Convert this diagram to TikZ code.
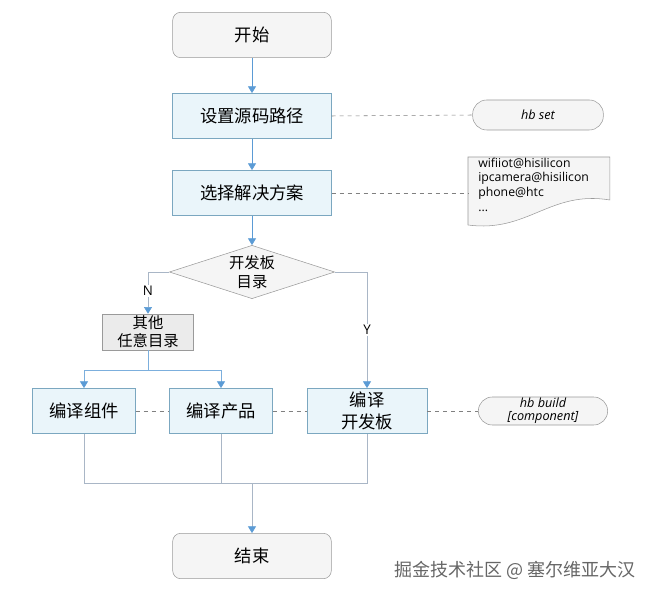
\documentclass[tikz,border=0pt]{standalone}
\usepackage{fontspec}
\setmainfont{Noto Sans CJK SC}
\newfontfamily\latinfont{Open Sans}
\usetikzlibrary{shapes.geometric,arrows.meta,backgrounds}
\definecolor{boxfill}{HTML}{EAF5FA}
\definecolor{boxline}{HTML}{7BA7C0}
\definecolor{termfill}{HTML}{F5F5F5}
\definecolor{termline}{HTML}{9A9A9A}
\definecolor{flowblue}{HTML}{5B9BD5}
\definecolor{joinline}{HTML}{A9B6C6}
\begin{document}
\begin{tikzpicture}[x=0.75pt,y=-0.75pt,
	term/.style={draw=termline,fill=termfill,rounded corners=6pt,minimum width=119pt,minimum height=34pt,inner sep=0pt,font=\fontsize{13}{15}\selectfont},
	stepbox/.style={draw=boxline,fill=boxfill,minimum width=119pt,minimum height=34pt,inner sep=0pt,align=center,font=\fontsize{13}{15}\selectfont},
	pill/.style={draw=termline,fill=termfill,rounded corners=10.5pt,inner sep=0pt,align=center,font=\latinfont\itshape\fontsize{9.5}{11}\selectfont},
	flow/.style={draw=flowblue,-{Triangle[width=6pt,length=5pt]}},
	branch/.style={draw=joinline,-{Triangle[width=6pt,length=5pt,color=flowblue,fill=flowblue]}},
	link/.style={draw=black!50,dash pattern=on 3pt off 3pt}]
	\useasboundingbox (0,0) rectangle (660,598);
	\node[term] (start) at (252,35) {开始};
	\node[stepbox] (setpath) at (252,116) {设置源码路径};
	\node[stepbox] (choose) at (252,193) {选择解决方案};
	\node[diamond,draw=termline,fill=termfill,aspect=3,inner sep=0pt,minimum width=124pt,minimum height=40pt,align=center,font=\fontsize{11.5}{14}\selectfont] (board) at (252,272) {开发板\\目录};
	\node[draw=termline,fill=black!8,minimum width=68pt,minimum height=27pt,inner sep=0pt,align=center,font=\fontsize{11.5}{13.5}\selectfont] (other) at (148,332) {其他\\任意目录};
	\node[stepbox,minimum width=77pt] (comp) at (84,411) {编译组件};
	\node[stepbox,minimum width=77pt] (prod) at (221,411) {编译产品};
	\node[stepbox,minimum width=90pt,font=\fontsize{13}{16}\selectfont] (dev) at (367,411) {编译\\开发板};
	\node[term] (finish) at (252,556) {结束};
	\node[pill,minimum width=98pt,minimum height=22.5pt] (hbset) at (538,115) {hb set};
	\node[pill,minimum width=97pt,minimum height=21pt] (hbbuild) at (543,411) {hb build\\[-1pt][component]};
	\node[anchor=north west,minimum width=106pt,minimum height=52pt,inner sep=0pt] (boards) at (468,157) {};
	\node[anchor=north west,align=left,inner sep=0pt,font=\latinfont\fontsize{9.2}{11}\selectfont] (boardtext) at (478,157.5) {wifiiot@hisilicon\\ipcamera@hisilicon\\phone@htc\\...};
	\begin{pgfonlayer}{background}
		\draw[draw=termline,fill=termfill] (boards.north west) -- (boards.north east) -- ++(0,43) .. controls +(-60,-10) and +(60,8) .. ([yshift=-51pt]boards.north west) -- cycle;
	\end{pgfonlayer}
	\draw[flow] (start) -- (setpath);
	\draw[flow] (setpath) -- (choose);
	\draw[flow] (choose) -- (board);
	\draw[branch] (board.west) -| node[pos=0.73,fill=white,inner sep=1pt,font=\latinfont\fontsize{10}{11}\selectfont] {N} (other.north);
	\draw[branch] (board.east) -| node[pos=0.75,fill=white,inner sep=1pt,font=\latinfont\fontsize{10}{11}\selectfont] {Y} (dev.north);
	\draw[draw=flowblue!80] (other.south) -- ++(0,20) coordinate (split);
	\draw[branch,draw=flowblue!80] (split) -| (comp.north);
	\draw[branch,draw=flowblue!80] (split) -| (prod.north);
	\coordinate (join) at (252,483);
	\draw[joinline] (comp.south) -- (comp.south |- join) -- (dev.south |- join) -- (dev.south);
	\draw[joinline] (prod.south) -- (prod.south |- join);
	\draw[branch] (join) -- (finish.north);
	\draw[link] (setpath.east) -- (hbset.west);
	\draw[link] (choose.east) -- (choose.east -| boards.west);
	\draw[link] (comp.east) -- (prod.west);
	\draw[link] (prod.east) -- (dev.west);
	\draw[link] (dev.east) -- (hbbuild.west);
	\node[text=black!60,font=\fontsize{13.5}{15}\selectfont] (mark) at (515,570) {掘金技术社区 @ 塞尔维亚大汉};
\end{tikzpicture}
\end{document}
